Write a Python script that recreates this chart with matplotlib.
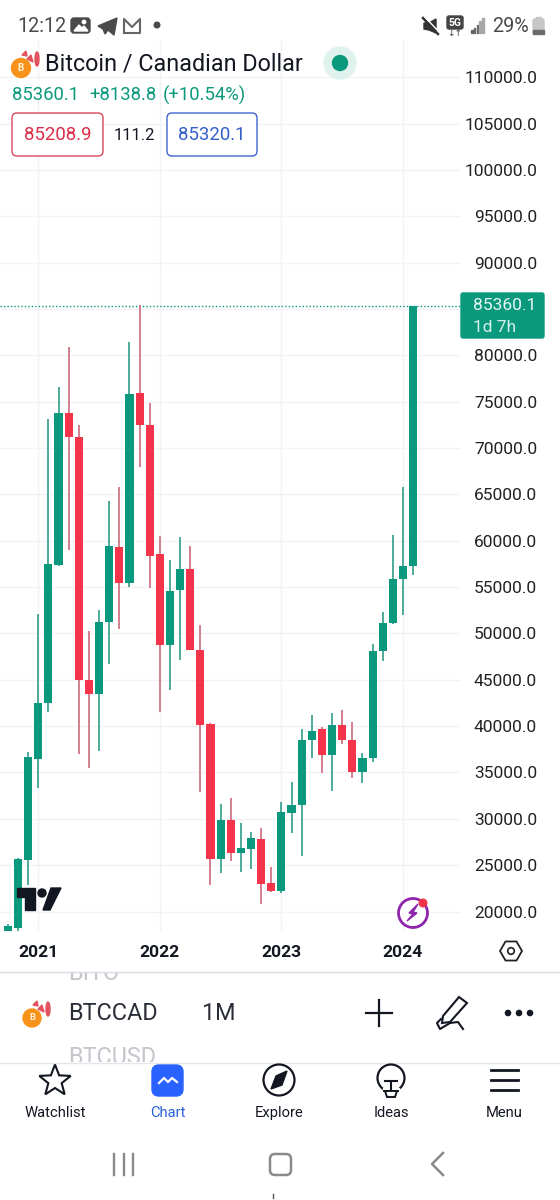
# plot.py: BTCCAD monthly candles, phone screenshot of the TradingView app
import math
import matplotlib
matplotlib.use('Agg')
import matplotlib.pyplot as plt
from matplotlib.patches import Circle, Ellipse, FancyBboxPatch, Polygon, Rectangle, RegularPolygon

plt.rcParams['font.family'] = ['Roboto', 'DejaVu Sans']

# months counted from Jan 2021 (last one is Feb 2024)
months = list(range(-3, 38))
opens = [17900, 18250, 25590, 36420, 42470, 57360, 73820, 71170, 44980, 43470, 51270, 59360,
         55480, 75910, 72530, 58570, 48790, 54660, 56920, 48250, 40200, 25630, 29870, 26350,
         26780, 27820, 23040, 22210, 30660, 31490, 38470, 39660, 36850, 40090, 38500, 35050,
         36600, 48110, 51100, 55880, 57280]
closes = [18430, 25660, 36640, 42500, 57530, 73820, 71170, 44980, 43470, 51200, 59470, 55410,
          75810, 72530, 58360, 48790, 54610, 56960, 48250, 40160, 25700, 29870, 26310, 26850,
          27900, 22970, 22180, 30700, 31520, 38500, 39510, 36850, 40090, 38470, 35020, 36600,
          48110, 51170, 55880, 57250, 85360.1]
highs = [18650, 25750, 37180, 52100, 73140, 76560, 80940, 72460, 50270, 52530, 64260, 65800,
         81450, 85410, 74840, 60480, 57890, 60380, 59470, 50910, 40370, 31570, 32210, 29520,
         28610, 28980, 24830, 31850, 33940, 39660, 41200, 39880, 41390, 41740, 40450, 37070,
         48830, 52350, 60660, 65800, 85360.1]
lows = [17890, 17900, 22900, 33290, 41490, 57280, 59010, 37030, 35480, 37350, 46740, 50510,
        55050, 67960, 54870, 41560, 43900, 47100, 48250, 32860, 22890, 24190, 25480, 24290,
        24550, 20780, 22100, 21960, 28500, 25990, 36530, 34980, 33000, 38040, 34440, 33830,
        36130, 46990, 51000, 51990, 56340]
year_ticks = [0, 12, 24, 36]
year_labels = ['2021', '2022', '2023', '2024']
price_ticks = list(range(20000, 115000, 5000))
last_price = 85360.1

GREEN = '#0b997d'
RED = '#f4344a'
GRID = '#f1f3f7'
DARK = '#131722'

fig = plt.figure(figsize=(5.6, 12), dpi=100)
W, H = 560, 1200

# chart axes, pixel box x 0-460, y 40-932
ax = fig.add_axes([0, 1 - 932 / H, 460 / W, 892 / H])
ax.set_xlim(-3.78, 41.63)
ax.set_ylim(17790, 114030)
for s in ax.spines.values():
    s.set_visible(False)
ax.set_axisbelow(True)
ax.grid(True, color=GRID, lw=1)
ax.set_xticks(year_ticks, year_labels, fontsize=12.6, fontweight='bold', color=DARK)
ax.yaxis.tick_right()
# 85000 sits under the last price tag in the app, so it gets no label
ax.set_yticks(price_ticks, ['' if p == 85000 else f'{p:.1f}' for p in price_ticks],
              fontsize=12.5, color='#222222')
ax.tick_params(axis='x', length=0, pad=9.5)
ax.tick_params(axis='y', length=0, pad=55.5)
for lab in ax.get_yticklabels():
    lab.set_ha('right')

# candles
for m, o, c, h, l in zip(months, opens, closes, highs, lows):
    up = c >= o
    ax.vlines(m, l, h, color='#2f9c88' if up else '#cc6a7c', lw=1.2, zorder=2)
ax.bar(months, [abs(c - o) for o, c in zip(opens, closes)],
       bottom=[min(o, c) for o, c in zip(opens, closes)], width=0.8,
       color=[GREEN if c >= o else RED for o, c in zip(opens, closes)], zorder=3)
ax.axhline(last_price, color=GREEN, lw=1, ls=(0, (1, 1.5)), zorder=1)

# overlay in screen pixels for the app chrome
ui = fig.add_axes([0, 0, 1, 1], zorder=5)
ui.set_xlim(0, W)
ui.set_ylim(H, 0)
ui.axis('off')
ui.patch.set_alpha(0)


def txt(x, y, s, size, color=DARK, ha='left', weight='normal', **kw):
    return ui.text(x, y, s, fontsize=size, color=color, ha=ha, va='center', fontweight=weight, **kw)


def box(x, y, w, h, r, **kw):
    ui.add_patch(FancyBboxPatch((x, y), w, h, boxstyle=f'round,pad=0,rounding_size={r}', **kw))


def coin(cx, cy, r):
    ui.add_patch(Circle((cx, cy), r, color='#f7931a', zorder=3))
    txt(cx, cy, 'B', r * 0.75, color='#fff3df', ha='center', weight='bold', zorder=4)
    # bits of the maple flag behind the coin
    ui.add_patch(Ellipse((cx + 16, cy - 9), 4, 14, color='#e2535f'))
    ui.add_patch(Polygon([(cx + 6, cy - 9), (cx + 10, cy - 13), (cx + 12, cy - 6)], color='#e2535f'))
    ui.add_patch(Polygon([(cx + 1, cy - 13), (cx + 5, cy - 17), (cx + 6, cy - 12)], color='#e2535f'))


# status bar
STATUS = '#4a4a4a'
txt(17, 26, '12:12', 14.2, STATUS)
box(71, 18, 19, 15, 3, color=STATUS)
ui.add_patch(Polygon([(74, 31), (79, 25), (82, 28), (84, 26), (88, 31)], color='white'))
ui.add_patch(Circle((84, 22), 1.7, color='white'))
ui.add_patch(Polygon([(98, 26), (117, 18), (114, 35), (108, 30), (105, 34), (103, 29)], color=STATUS))
ui.plot([124, 124, 132, 140, 140, 124], [33, 19, 27, 19, 33, 33], color='#666666', lw=1.5)
ui.add_patch(Circle((157, 25), 2.8, color=STATUS))
ui.add_patch(Polygon([(424, 23), (429, 23), (436, 19), (436, 33), (429, 30), (424, 29)], color='#333333'))
ui.plot([423, 438], [18, 34], color='#333333', lw=1.8)
ui.plot([425, 440], [17, 33], color='white', lw=1)
box(447, 16, 16, 13, 2, color='#444444')
txt(455, 22.5, '5G', 7.5, 'white', ha='center', weight='bold')
txt(455, 33, '↓↑', 6.5, '#444444', ha='center')
for i, bh in enumerate([3, 5, 8, 12, 15]):
    ui.add_patch(Rectangle((471 + i * 2.8, 33 - bh), 1.6, bh, color='#666666' if i < 3 else '#a8a8a8'))
txt(492, 26, '29%', 14.2, STATUS)
box(533, 19, 11, 15, 1.5, color='#c6c6c6')
ui.add_patch(Rectangle((536, 17), 5, 2, color='#c6c6c6'))
ui.add_patch(Rectangle((533, 30), 11, 4, color='#6a6a6a'))

# header
coin(21, 68, 9.5)
txt(45, 64, 'Bitcoin / Canadian Dollar', 16.8, DARK)
ui.add_patch(Circle((340, 63), 16, color='#dff2ee'))
ui.add_patch(Circle((340, 63), 7.5, color=GREEN))
txt(12, 95, '85360.1', 13.3, GREEN)
txt(89, 95, '+8138.8', 13.3, GREEN)
txt(163, 95, '(+10.54%)', 13.3, GREEN)
box(12, 113, 91, 43, 5, fc='white', ec='#d9475c', lw=1)
txt(57.5, 135, '85208.9', 13.4, '#dc2f49', ha='center')
txt(134.5, 135, '111.2', 11.8, DARK, ha='center')
box(167, 113, 90, 43, 5, fc='white', ec='#3f67cf', lw=1)
txt(212, 135, '85320.1', 13.4, '#3560cc', ha='center')

# last price tag
box(461, 293, 83, 45, 2, color=GREEN)
txt(473, 306, '85360.1', 12.5, '#e6f5f1')
txt(473, 327, '1d 7h', 12.5, '#d5efe9')

# TV logo
ui.add_patch(Polygon([(17, 888), (35, 888), (35, 910), (25, 910), (25, 897), (17, 897)], color=DARK))
ui.add_patch(Circle((42, 893), 4, color=DARK))
ui.add_patch(Polygon([(51, 888), (61, 888), (50, 910), (43, 910)], color=DARK))

# lightning badge
ui.add_patch(Circle((413, 913), 14.5, fc='white', ec='#8e24aa', lw=2))
ui.add_patch(Polygon([(418, 904), (409, 913), (413, 914), (407, 921), (417, 913), (413, 912)], color='#8e24aa'))
ui.add_patch(Circle((423, 903), 3.8, color='#f0354b'))

# scale settings hexagon
ui.add_patch(RegularPolygon((511, 951), 6, radius=11, orientation=math.pi / 6, fc='white', ec='#222222', lw=1.3))
ui.add_patch(Circle((511, 951), 3.3, fc='white', ec='#222222', lw=1.2))

# symbol bar
ui.add_patch(Rectangle((0, 971), W, 229, color='white', zorder=1))
ui.plot([0, W], [972, 972], color='#d9dce4', lw=1, zorder=2)
for s, y in [('BITO', 974), ('BTCUSD', 1058)]:
    t = txt(68, y, s, 16.8, '#c4c6cb', zorder=2)
    t.set_clip_path(Rectangle((0, 973), W, 89, transform=ui.transData))
    t.set_clip_on(True)
coin(32, 1018, 9)
txt(68, 1014, 'BTCCAD', 16.8, '#2a2e39')
txt(202, 1014, '1M', 16.8, '#2a2e39')
ui.plot([366, 392], [1013, 1013], color=DARK, lw=1.6)
ui.plot([379, 379], [1000, 1026], color=DARK, lw=1.6)
ui.add_patch(Polygon([(443, 1016), (459, 997), (467, 1003), (450, 1022), (442, 1023)], fc='white', ec=DARK, lw=1.5))
ui.plot([441, 437, 440, 450, 458, 463], [1019, 1023, 1029, 1023, 1022, 1029], color=DARK, lw=1.5)
for x in [508, 519, 530]:
    ui.add_patch(Circle((x, 1013), 2.6, color=DARK))

# bottom nav
ui.add_patch(Rectangle((0, 1063), W, 137, color='white', zorder=3))
ui.plot([0, W], [1063, 1063], color='#e4e6ec', lw=1, zorder=4)
star = []
for i in range(10):
    r = 16.5 if i % 2 == 0 else 7
    a = math.radians(-90 + 36 * i)
    star.append((55 + r * math.cos(a), 1081 + r * math.sin(a)))
ui.add_patch(Polygon(star, fc='white', ec=DARK, lw=1.5, zorder=4))
box(152, 1065, 31, 31, 7, color='#2962ff', zorder=4)
ui.plot([159, 164, 168, 172, 177], [1083, 1078, 1082, 1078, 1082], color='white', lw=1.6, zorder=5)
ui.add_patch(Circle((279, 1080), 15.5, fc='white', ec=DARK, lw=1.6, zorder=4))
ui.add_patch(Polygon([(287, 1071), (282, 1085), (271, 1089), (276, 1076)], color=DARK, zorder=5))
ui.add_patch(Circle((391, 1078), 13.5, fc='white', ec=DARK, lw=1.6, zorder=4))
ui.add_patch(Rectangle((383, 1088), 16, 6, color='white', zorder=5))
ui.plot([385, 397], [1081, 1081], color=DARK, lw=1.5, zorder=6)
ui.plot([391, 391], [1081, 1091], color=DARK, lw=1.5, zorder=6)
ui.plot([384, 398], [1091, 1091], color=DARK, lw=1.4, zorder=6)
ui.add_patch(Polygon([(385, 1091), (397, 1091), (395, 1097), (387, 1097)], fc='white', ec=DARK, lw=1.4, zorder=6))
for y in [1070, 1080, 1090]:
    ui.plot([491, 518], [y, y], color=DARK, lw=2, zorder=4)
for x, s in zip([55, 168, 279, 391, 504], ['Watchlist', 'Chart', 'Explore', 'Ideas', 'Menu']):
    txt(x, 1113, s, 10.6, '#2962d9' if s == 'Chart' else DARK, ha='center', zorder=4)

# android nav buttons
NAV = '#8a8a8a'
for x in [114, 124, 133]:
    ui.plot([x, x], [1154, 1175], color=NAV, lw=1.7, zorder=4)
box(270, 1154, 21, 21, 5, fc='white', ec=NAV, lw=1.8, zorder=4)
ui.plot([443, 432, 443], [1153, 1164, 1175], color=NAV, lw=1.8, zorder=4)
ui.plot([273, 273], [1194, 1198], color='#555555', lw=1, zorder=4)

fig.savefig('out.png', dpi=100)
